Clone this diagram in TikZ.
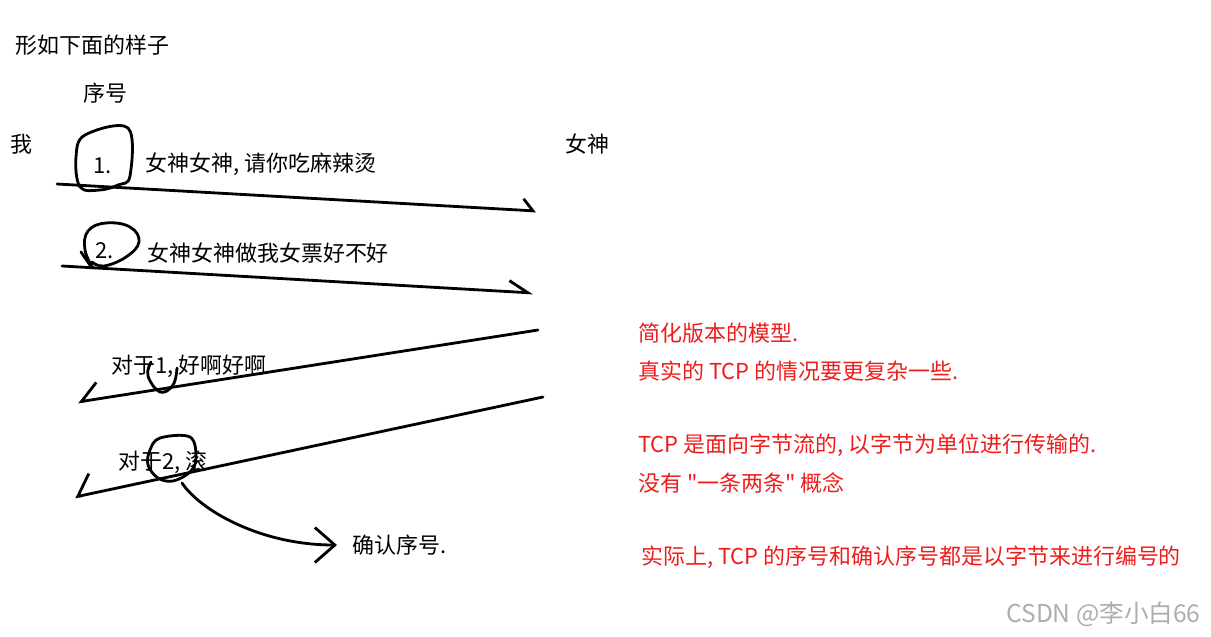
\documentclass[tikz,border=0pt]{standalone}
\usepackage{fontspec}
\setmainfont{Noto Sans CJK SC}[Ligatures=TeXOff]
\usetikzlibrary{arrows.meta}
\definecolor{notered}{RGB}{240,28,28}
\tikzset{
  sketch/.style={x=0.02cm, y=-0.02cm, font=\fontsize{12.5}{15}\selectfont},
  txt/.style={anchor=west, inner sep=0pt},
  note/.style={txt, text=notered},
  wmark/.style={txt, text=black!32, font=\fontsize{14}{16}\selectfont},
  pen/.style={line width=1.6pt, line cap=round, line join=round},
  blob/.style={pen},
  msg/.style={pen, -{Straight Barb[harpoon, length=#1]}},
  ack/.style={pen, -{Straight Barb[harpoon, swap, length=#1]}}
}
\begin{document}
\begin{tikzpicture}[sketch]
  \useasboundingbox (0,0) rectangle (1211,636);

  \node[txt] (title) at (15,45) {形如下面的样子};
  \node[txt] (seq) at (83,93) {序号};
  \node[txt] (me) at (10,144) {我};
  \node[txt] (her) at (565,144) {女神};

  \coordinate (s1) at (57,184);  \coordinate (r1) at (536,211);
  \coordinate (s2) at (62,266);  \coordinate (r2) at (533,293);
  \coordinate (r3) at (538,330); \coordinate (s3) at (78,402);
  \coordinate (r4) at (543,397); \coordinate (s4) at (75,497);

  % messages
  \node[txt] (n1) at (93,166) {1.};
  \node[txt] (m1) at (145,164) {女神女神, 请你吃麻辣烫};
  \draw[blob] plot[smooth cycle, tension=0.6] coordinates
    {(85,135) (128,128) (130,176) (118,185) (100,190) (80,187) (76,157)};
  \draw[msg={2mm, width=4.6mm}] (s1) -- (r1);

  \node[txt] (n2) at (95,251) {2.};
  \node[txt] (m2) at (147,253) {女神女神做我女票好不好};
  \draw[blob] plot[smooth, tension=0.7] coordinates
    {(93,268) (85,250) (88,231) (106,223) (130,227) (139,242) (126,257) (104,266) (92,262)};
  \draw[blob] (81,252) -- (92,268);
  \draw[msg={3.8mm, width=4.4mm}] (s2) -- (r2);

  % replies
  \node[txt] (a1) at (111,366) {对于1, 好啊好啊};
  \draw[blob] plot[smooth, tension=0.7] coordinates
    {(151,362) (148,376) (160,392) (173,385) (177,368)};
  \draw[ack={3.5mm, width=6.6mm}] (r3) -- (s3);

  \node[txt] (a2) at (118,462) {对于2, 滚};
  \draw[blob] plot[smooth cycle, tension=0.6] coordinates
    {(150,450) (160,438) (190,437) (196,458) (190,472) (173,481) (158,478) (148,465)};
  \draw[ack={3.1mm, width=8mm}] (r4) -- (s4);

  \node[txt] (ackno) at (352,545) {确认序号.};
  \coordinate (tail) at (182,483);
  \coordinate (head) at ([xshift=-0.3cm]ackno.west);
  \draw[pen, -{Straight Barb[length=4mm, width=7mm]}]
    (tail) .. controls (200,510) and (260,545) .. (head);

  % notes
  \node[note] (t1) at (638,333) {简化版本的模型.};
  \node[note] (t2) at (638,371) {真实的 TCP 的情况要更复杂一些.};
  \node[note] (t3) at (638,445) {TCP 是面向字节流的, 以字节为单位进行传输的.};
  \node[note] (t4) at (638,483) {没有 "一条两条" 概念};
  \node[note] (t5) at (641,557) {实际上, TCP 的序号和确认序号都是以字节来进行编号的};

  \node[wmark] (wm) at (1006,614) {CSDN @李小白66};
\end{tikzpicture}
\end{document}
